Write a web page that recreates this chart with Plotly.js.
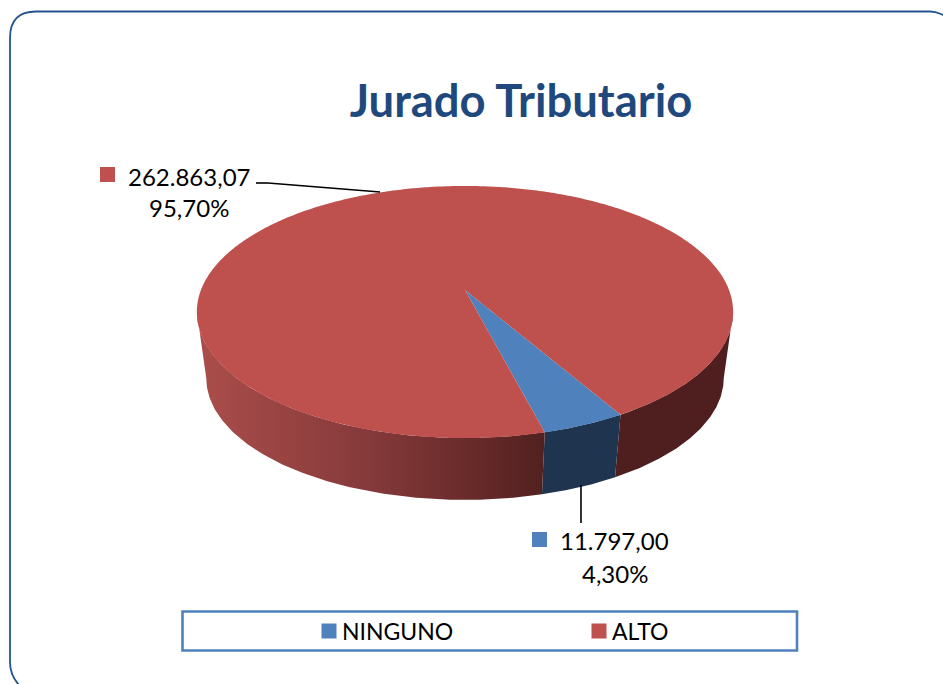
<!DOCTYPE html>
<html><head><meta charset="utf-8">
<script src="https://cdn.plot.ly/plotly-3.0.1.min.js"></script>
<style>html,body{margin:0;padding:0;background:#fff}#c{width:943px;height:684px}</style>
</head><body><div id="c"></div>
<script>
// data
const categories = ['NINGUNO', 'ALTO'];
const values = [11797.00, 262863.07];
const valueLabels = ['11.797,00', '262.863,07'];
const percentLabels = ['4,30%', '95,70%'];
const topColors = ['#4f81bd', '#be504d'];
const titleText = 'Jurado Tributario';

// view of the tilted pie (pixels of the page)
const view = {x0: 465, y0: 290, a: 264, b: 122.2, k: 0.1746, wallDrop: 67, wallScale: 0.965};
const startAngle = 150;
const FONT = 'Lato, "Open Sans", sans-serif';

function project(u, v, s, drop) {
  const w = 1 - view.k * v;
  return [view.x0 + s * view.a * u / w, view.y0 + drop + s * view.b * v / w];
}
function wall(fromDeg, toDeg, extra) {
  const xs = [], ys = [];
  const n = 120;
  for (let i = 0; i <= n; i++) {
    const t = (fromDeg + (toDeg - fromDeg) * i / n) * Math.PI / 180;
    const p = project(Math.sin(t), -Math.cos(t), 1, 0);
    xs.push(p[0]); ys.push(p[1]);
  }
  for (let i = n; i >= 0; i--) {
    const t = (fromDeg + (toDeg - fromDeg) * i / n) * Math.PI / 180;
    const p = project(Math.sin(t), -Math.cos(t), view.wallScale, view.wallDrop);
    xs.push(p[0]); ys.push(p[1]);
  }
  return Object.assign({type: 'scatter', mode: 'lines', x: xs, y: ys, fill: 'toself',
    line: {width: 0}, showlegend: false, hoverinfo: 'skip'}, extra);
}
const total = values.reduce((a, b) => a + b, 0);
const sliceEnd = startAngle + 360 * values[0] / total;
// the wall is seen between the two points where the rim turns back
const rimTurn = Math.acos(view.k) * 180 / Math.PI;

const traces = [
  wall(90 + (90 - rimTurn), startAngle, {fillcolor: '#4e1f1e'}),
  wall(startAngle, sliceEnd, {fillcolor: '#1f344e'}),
  wall(sliceEnd, 270 - (90 - rimTurn), {fillgradient: {type: 'horizontal',
    colorscale: [[0, '#ab4e4b'], [0.5, '#85393a'], [0.8, '#672a29'], [1, '#512120']]}}),
  {type: 'pie', labels: categories, values: values, sort: false, direction: 'clockwise',
   rotation: startAngle, textinfo: 'none', hoverinfo: 'label+value+percent',
   marker: {colors: topColors, line: {width: 0}}, domain: {x: [0.1, 0.9], y: [0.1, 0.9]}}
];

const pxRect = (x0, y0, x1, y1, extra) => Object.assign({type: 'rect', xref: 'x', yref: 'y', x0, y0, x1, y1}, extra);
const pxLine = (x0, y0, x1, y1) => ({type: 'line', xref: 'x', yref: 'y', x0, y0, x1, y1, line: {color: '#000', width: 1.6}});

const layout = {
  width: 943, height: 684, margin: {l: 0, r: 0, t: 0, b: 0},
  paper_bgcolor: '#fff', plot_bgcolor: '#fff',
  title: {text: '<b>' + titleText + '</b>', x: 521 / 943, xanchor: 'center', y: 1 - 101 / 684, yanchor: 'middle',
          font: {family: FONT, size: 45.4, color: '#1f497d'}},
  xaxis: {range: [0, 943], visible: false, fixedrange: true},
  yaxis: {range: [684, 0], visible: false, fixedrange: true},
  legend: {orientation: 'h', x: 302 / 943, xanchor: 'left', y: 1 - 631 / 684, yanchor: 'middle',
           entrywidth: 225, entrywidthmode: 'pixels', bgcolor: 'rgba(0,0,0,0)', borderwidth: 0,
           font: {family: FONT, size: 23, color: '#000'}},
  shapes: [
    {type: 'path', xref: 'x', yref: 'y', path: 'M 945,16 L 941,14 Q 935,11.5 930,11.5 L 36,11.5 Q 10,11.5 10,38 L 10,662 Q 10,675 19,685',
     line: {color: '#24548f', width: 1.8}},
    pxRect(182.5, 611.5, 797, 650.5, {line: {color: '#4f81bd', width: 2.6}}),
    pxRect(100, 167, 115, 182, {fillcolor: topColors[1], line: {width: 0}}),
    pxRect(532, 532, 547, 547, {fillcolor: topColors[0], line: {width: 0}}),
    pxLine(256, 183, 268, 183), pxLine(268, 183, 380, 192), pxLine(581, 485, 581, 523)
  ],
  annotations: [
    {xref: 'x', yref: 'y', x: 188.5, y: 176, text: valueLabels[1], showarrow: false, xanchor: 'center', yanchor: 'middle', font: {family: FONT, size: 24, color: '#000'}},
    {xref: 'x', yref: 'y', x: 188.5, y: 207.5, text: percentLabels[1], showarrow: false, xanchor: 'center', yanchor: 'middle', font: {family: FONT, size: 24, color: '#000'}},
    {xref: 'x', yref: 'y', x: 614.5, y: 540, text: valueLabels[0], showarrow: false, xanchor: 'center', yanchor: 'middle', font: {family: FONT, size: 24, color: '#000'}},
    {xref: 'x', yref: 'y', x: 614.5, y: 573, text: percentLabels[0], showarrow: false, xanchor: 'center', yanchor: 'middle', font: {family: FONT, size: 24, color: '#000'}}
  ]
};

const gd = document.getElementById('c');
Plotly.newPlot(gd, traces, layout, {displayModeBar: false, staticPlot: true}).then(() => {
  // Re-project the slices Plotly drew from the values onto the tilted view.
  const cd = gd.calcdata.find(c => c[0] && c[0].r !== undefined)[0];
  gd.querySelectorAll('.pielayer .slice path').forEach(path => {
    const len = path.getTotalLength();
    const n = 720;
    const pts = [];
    for (let i = 0; i <= n; i++) {
      const p = path.getPointAtLength(len * i / n);
      const q = project((p.x - cd.cx) / cd.r, (p.y - cd.cy) / cd.r, 1, 0);
      pts.push(q[0].toFixed(2) + ',' + q[1].toFixed(2));
    }
    path.setAttribute('d', 'M' + pts.join('L') + 'Z');
  });
  // Larger legend swatches, as in the reference.
  gd.querySelectorAll('.legend path.legendpie').forEach(path => {
    path.setAttribute('d', 'M7.5,7.5H-7.5V-7.5H7.5Z');
    path.setAttribute('transform', (path.getAttribute('transform') || '') + ' translate(7,0)');
  });
});
</script></body></html>
